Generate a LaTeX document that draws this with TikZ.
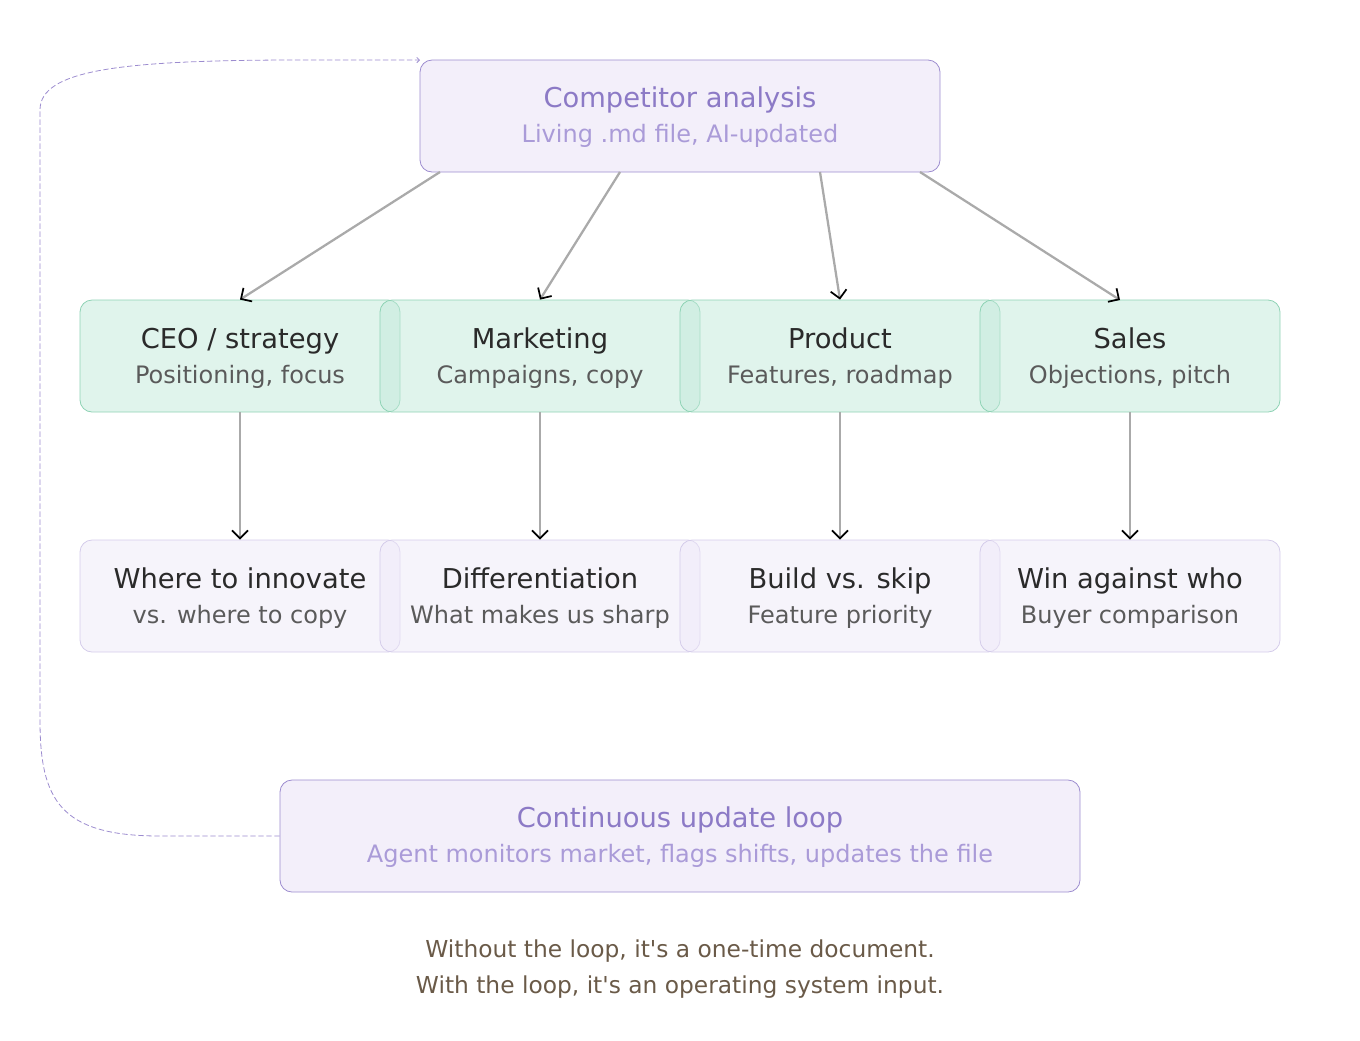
\documentclass[tikz,border=0pt]{standalone}
\usepackage{fontspec}
\setmainfont{DejaVu Sans}
\usetikzlibrary{arrows.meta}
\definecolor{pfill}{HTML}{F3EFFA}
\definecolor{pdraw}{HTML}{9C8CCF}
\definecolor{ptitle}{HTML}{8C7AC6}
\definecolor{psub}{HTML}{AA9BD8}
\definecolor{gfill}{HTML}{C2E9DA}
\definecolor{gdraw}{HTML}{8ED2B4}
\definecolor{lfill}{HTML}{EEE9F8}
\definecolor{ldraw}{HTML}{D4CCEA}
\definecolor{dtext}{HTML}{2A2A2A}
\definecolor{stext}{HTML}{5A5A5A}
\definecolor{ctext}{HTML}{6A5A48}
\definecolor{arr}{HTML}{AAAAAA}
\tikzset{
 x=0.75pt,y=-0.75pt,
 pbox/.style={draw=pdraw,fill=pfill,rounded corners=9pt,line width=0.6pt},
 gbox/.style={draw=gdraw,fill=gfill,fill opacity=0.5,draw opacity=1,rounded corners=9pt,line width=0.6pt},
 lbox/.style={draw=ldraw,fill=lfill,fill opacity=0.5,rounded corners=9pt,line width=0.6pt},
 ttl/.style={font=\fontsize{20.5}{24}\selectfont},
 sub/.style={font=\fontsize{18}{21}\selectfont},
 flow/.style={draw=arr,line width=1.7pt,-{Straight Barb[black,length=6pt,width=12pt,line width=1.3pt]}},
}
\begin{document}
\begin{tikzpicture}
\useasboundingbox (0,0) rectangle (1360,1040);
\node[pbox,minimum width=390pt,minimum height=84pt] (top) at (680,116) {};
\node[ttl,text=ptitle] at (680,100) {Competitor analysis};
\node[sub,text=psub] at (680,136) {Living .md file, AI-updated};
% row 2
\foreach \n/\x/\w/\t/\s in {a/240/320/{CEO / strategy}/{Positioning, focus},b/540/320/Marketing/{Campaigns, copy},c/840/320/Product/{Features, roadmap},d/1130/300/Sales/{Objections, pitch}}{
 \node[gbox,minimum width=\w*0.75pt,minimum height=84pt] (\n) at (\x,356) {};
 \node[ttl,text=dtext,anchor=base] at (\x,348) {\t};
 \node[sub,text=stext,anchor=base] at (\x,383) {\s};
}
\foreach \n/\x/\w/\t/\s in {e/240/320/Where to innovate/{vs. where to copy},f/540/320/Differentiation/{What makes us sharp},g/840/320/Build vs. skip/{Feature priority},h/1130/300/Win against who/{Buyer comparison}}{
 \node[lbox,minimum width=\w*0.75pt,minimum height=84pt] (\n) at (\x,596) {};
 \node[ttl,text=dtext,anchor=base] at (\x,588) {\t};
 \node[sub,text=stext,anchor=base] at (\x,623) {\s};
}
\node[pbox,minimum width=600pt,minimum height=84pt] (loop) at (680,836) {};
\node[ttl,text=ptitle] at (680,820) {Continuous update loop};
\node[sub,text=psub] at (680,856) {Agent monitors market, flags shifts, updates the file};
\coordinate (t1) at (440,172); \coordinate (t2) at (620,172);
\coordinate (t3) at (820,172); \coordinate (t4) at (920,172);
\draw[flow] (t1) -- (a.north);
\draw[flow] (t2) -- (b.north);
\draw[flow] (t3) -- (c.north);
\draw[flow] (t4) -- (1120,300);
\draw[flow] (a.south) -- (e.north);
\draw[flow] (b.south) -- (f.north);
\draw[flow] (c.south) -- (g.north);
\draw[flow] (d.south) -- (h.north);
\coordinate (tl) at (420,60);
\draw[pdraw,dashed,dash pattern=on 4pt off 2pt,line width=0.6pt,-{Straight Barb[length=2pt,width=4pt]}]
 (loop.west) -- (160,836) .. controls (60,836) and (40,800) .. (40,720) -- (40,110)
 .. controls (40,70) and (120,60) .. (300,60) -- (tl);
\node[text=ctext,align=center,font=\fontsize{17.5}{27}\selectfont] (cap) at (680,969)
 {Without the loop, it\textquotesingle s a one-time document.\\With the loop, it\textquotesingle s an operating system input.};
\end{tikzpicture}
\end{document}
